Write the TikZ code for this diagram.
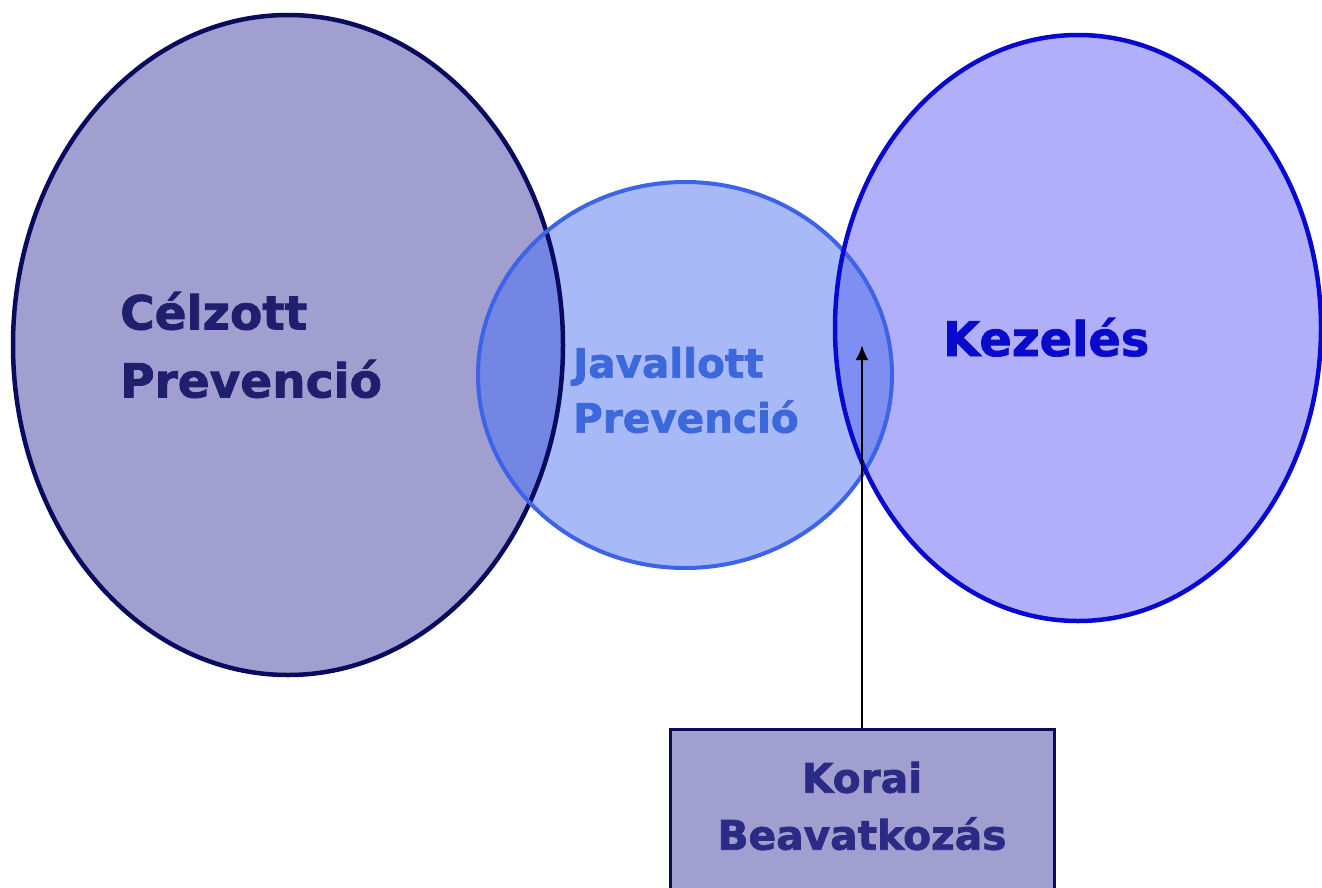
\documentclass[tikz,border=0pt]{standalone}
\usepackage{fontspec}
\setmainfont{DejaVu Sans}
\newfontfamily\heavy{DejaVu Sans Bold}[FakeBold=1.6]
\usetikzlibrary{arrows.meta}
\definecolor{lfill}{HTML}{A09FD0}
\definecolor{mfill}{HTML}{A7BAF7}
\definecolor{rfill}{HTML}{B1AFF9}
\definecolor{loverlap}{HTML}{7386E4}
\definecolor{roverlap}{HTML}{7E8EF1}
\definecolor{ldraw}{HTML}{0A0A5E}
\definecolor{mdraw}{HTML}{3D63E8}
\definecolor{rdraw}{HTML}{0808D0}
\definecolor{ltext}{HTML}{1F1F6E}
\definecolor{mtext}{HTML}{3C68DC}
\definecolor{rtext}{HTML}{0A0ACC}
\definecolor{btext}{HTML}{2B2B85}
\tikzset{
  label/.style={inner sep=0pt},
  boxnode/.style={draw=ldraw, line width=3pt, fill=lfill, minimum width=384pt, minimum height=170pt, inner sep=0pt},
  pointer/.style={draw=black, line width=2.8pt, -{Latex[length=15pt,width=13pt]}},
}
\begin{document}
\begin{tikzpicture}[x=1pt,y=1pt]
\useasboundingbox (0,0) rectangle (1322,-888);
\clip (0,0) rectangle (1322,-888);
% fills
\fill[lfill] (288,-345) ellipse [x radius=275, y radius=330];
\fill[mfill] (685,-375) ellipse [x radius=207, y radius=193];
\fill[rfill] (1078,-328) ellipse [x radius=243, y radius=293];
% overlaps
\begin{scope}
  \clip (685,-375) ellipse [x radius=207, y radius=193];
  \fill[loverlap] (288,-345) ellipse [x radius=275, y radius=330];
  \fill[roverlap] (1078,-328) ellipse [x radius=243, y radius=293];
\end{scope}
% outlines
\draw[ldraw, line width=4.5pt] (288,-345) ellipse [x radius=275, y radius=330];
\draw[mdraw, line width=4pt] (685,-375) ellipse [x radius=207, y radius=193];
\draw[rdraw, line width=4.5pt] (1078,-328) ellipse [x radius=243, y radius=293];
% labels
\node[label, text=ltext, anchor=west, align=left, font=\heavy\fontsize{47}{68}\selectfont] (celzott) at (120,-345) {Célzott\\Prevenció};
\node[label, text=mtext, anchor=west, align=left, font=\heavy\fontsize{40.5}{55}\selectfont] (javallott) at (573,-390) {Javallott\\Prevenció};
\node[label, text=rtext, anchor=base west, font=\heavy\fontsize{47.8}{57}\selectfont] (kezeles) at (943,-356) {Kezelés};
% box
\node[boxnode, anchor=north] (box) at (862,-728) {};
\node[label, text=btext, align=center, font=\heavy\fontsize{40.7}{57}\selectfont] (korai) at (862,-806) {Korai\\Beavatkozás};
\coordinate (tip) at (862,-345);
\draw[pointer] (box.north) -- (tip);
\end{tikzpicture}
\end{document}
